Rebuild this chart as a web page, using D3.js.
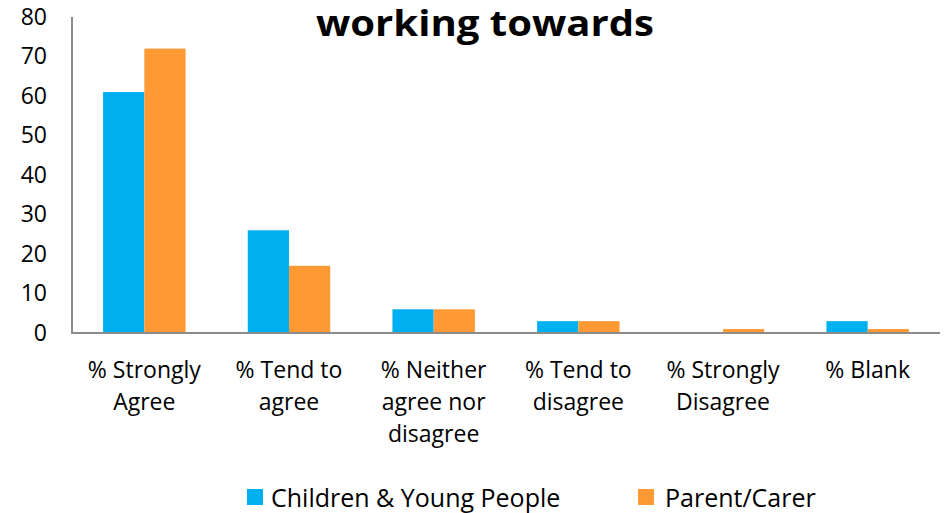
<!DOCTYPE html>
<html><head><meta charset="utf-8">
<script src="https://cdn.jsdelivr.net/npm/d3@7"></script>
<style>body{margin:0;background:#fff}svg{display:block}text{font-family:"Open Sans","Noto Sans",sans-serif}</style>
</head><body><svg id="c" width="944" height="513"></svg>
<script>
const categories = [["% Strongly","Agree"],["% Tend to","agree"],["% Neither","agree nor","disagree"],["% Tend to","disagree"],["% Strongly","Disagree"],["% Blank"]];
const seriesNames = ["Children & Young People","Parent/Carer"];
const children = [61,26,6,3,0,3];
const parents = [72,17,6,3,1,1];
const yTicks = [0,10,20,30,40,50,60,70,80];
const colors = ["#00B0F0","#FF9933"];
const title = "working towards";

const svg = d3.select("#c");
const m = {l:72, r:940, t:17, b:333};
const x0 = d3.scaleBand().domain(d3.range(categories.length)).range([m.l,m.r]).paddingInner(0.43).paddingOuter(0.215);
const x1 = d3.scaleBand().domain([0,1]).range([0,x0.bandwidth()]);
const y = d3.scaleLinear().domain([0,80]).range([m.b,m.t]);

// title
svg.append("text").attr("x",485).attr("y",36).attr("text-anchor","middle")
  .attr("font-size",36).attr("font-weight","bold").attr("fill","#000")
  .attr("textLength",338).attr("lengthAdjust","spacingAndGlyphs").text(title);

// y tick labels
const ya = svg.append("g").attr("transform",`translate(${m.l},0)`)
  .call(d3.axisLeft(y).tickValues(yTicks).tickSize(0).tickPadding(25));
ya.select(".domain").remove();
ya.selectAll("text").attr("font-size",23).attr("fill","#000").attr("font-family","\"Open Sans\",\"Noto Sans\",sans-serif");

// bars
const data = categories.map((c,i)=>[children[i],parents[i]]);
const g = svg.append("g");
data.forEach((vals,i)=>{
  vals.forEach((v,j)=>{
    g.append("rect").attr("x",x0(i)+x1(j)).attr("width",x1.bandwidth())
      .attr("y",y(v)).attr("height",y(0)-y(v)).attr("fill",colors[j]);
  });
});

// axes lines
svg.append("line").attr("x1",m.l).attr("x2",m.l).attr("y1",m.t).attr("y2",m.b+1)
  .attr("stroke","#8c8c8c").attr("stroke-width",2);
svg.append("line").attr("x1",m.l).attr("x2",m.r).attr("y1",m.b).attr("y2",m.b)
  .attr("stroke","#8c8c8c").attr("stroke-width",2);

// category labels
categories.forEach((lines,i)=>{
  const cx = x0(i)+x0.bandwidth()/2;
  const t = svg.append("text").attr("text-anchor","middle").attr("font-size",23).attr("fill","#000");
  lines.forEach((l,k)=>t.append("tspan").attr("x",cx).attr("y",378+k*32).text(l));
});

// legend
const leg = [{x:247,tx:271},{x:638,tx:665}];
seriesNames.forEach((n,j)=>{
  svg.append("rect").attr("x",leg[j].x).attr("y",489).attr("width",16).attr("height",16).attr("fill",colors[j]);
  svg.append("text").attr("x",leg[j].tx).attr("y",507).attr("font-size",25).attr("fill","#000").text(n);
});
</script></body></html>
